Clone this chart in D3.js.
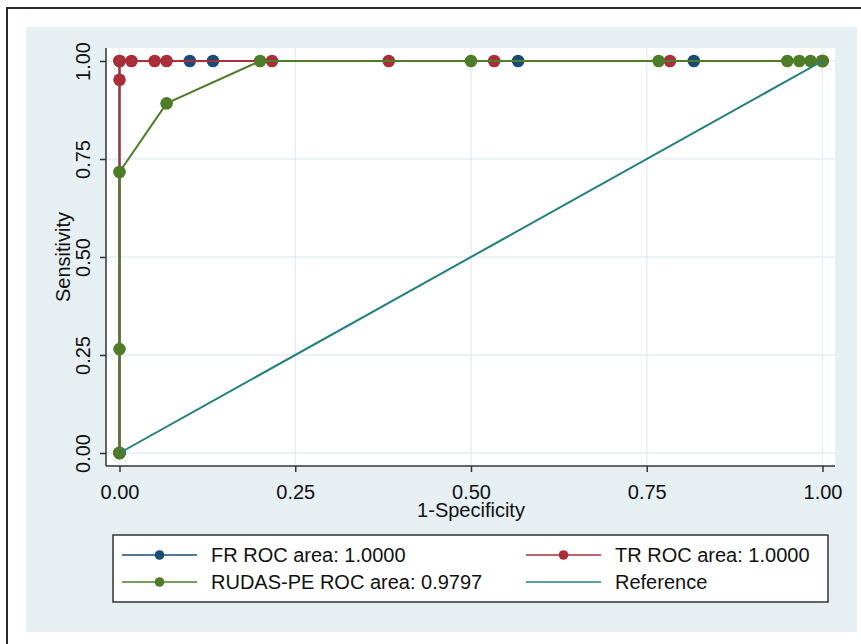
<!DOCTYPE html>
<html>
<head>
<meta charset="utf-8">
<script src="https://cdn.jsdelivr.net/npm/d3@7"></script>
<style>
  html, body { margin: 0; padding: 0; background: #fff; }
  svg text { font-family: "Liberation Sans", Arial, sans-serif; fill: #111; }
</style>
</head>
<body>
<div id="chart-area"></div>
<script>
// ROC data (1-specificity / sensitivity)
const frFpr = [0, 0, 0.1, 0.133, 0.567, 0.817, 1];
const frTpr = [0, 1, 1, 1, 1, 1, 1];
const trFpr = [0, 0, 0, 0.017, 0.05, 0.067, 0.217, 0.383, 0.533, 0.783, 1];
const trTpr = [0, 0.952, 1, 1, 1, 1, 1, 1, 1, 1, 1];
const rudasFpr = [0, 0, 0, 0.067, 0.2, 0.5, 0.767, 0.95, 0.967, 0.983, 1];
const rudasTpr = [0, 0.265, 0.717, 0.892, 1, 1, 1, 1, 1, 1, 1];
const refFpr = [0, 1];
const refTpr = [0, 1];

const seriesNames = ['FR', 'TR', 'RUDAS-PE'];
const rocAreas = ['1.0000', '1.0000', '0.9797'];
const xTicks = [0, 0.25, 0.5, 0.75, 1];
const yTicks = [0, 0.25, 0.5, 0.75, 1];

const colors = {FR: '#1a4c78', TR: '#aa2f3b', 'RUDAS-PE': '#4e7c28', Reference: '#22807f'};

const W = 861, H = 644;
const svg = d3.select('#chart-area').append('svg').attr('width', W).attr('height', H);

// outer frame + graph region
svg.append('rect').attr('x', 7).attr('y', 8).attr('width', W + 10).attr('height', H + 10)
  .attr('fill', '#fff').attr('stroke', '#2b2b2b').attr('stroke-width', 2);
svg.append('rect').attr('x', 26).attr('y', 27).attr('width', 831).attr('height', 605).attr('fill', '#e6eff1');

// plot region
const plot = {left: 106, right: 835, top: 48, bottom: 466};
svg.append('rect').attr('x', plot.left).attr('y', plot.top)
  .attr('width', plot.right - plot.left).attr('height', plot.bottom - plot.top).attr('fill', '#fff');

const x = d3.scaleLinear().domain([0, 1]).range([119.5, 822.5]);
const y = d3.scaleLinear().domain([0, 1]).range([453, 61]);

// grid
const grid = svg.append('g').attr('class', 'grid');
grid.selectAll('.gx').data(xTicks).enter().append('line')
  .attr('x1', d => x(d)).attr('x2', d => x(d)).attr('y1', plot.top).attr('y2', plot.bottom)
  .attr('stroke', '#e6eff1').attr('stroke-width', 1.5);
grid.selectAll('.gy').data(yTicks).enter().append('line')
  .attr('y1', d => y(d)).attr('y2', d => y(d)).attr('x1', plot.left).attr('x2', plot.right)
  .attr('stroke', '#e6eff1').attr('stroke-width', 1.5);

// axes
const xAxisCall = d3.axisBottom(x).tickValues(xTicks).tickFormat(d3.format('.2f')).tickSize(6).tickSizeOuter(0);
const yAxisCall = d3.axisLeft(y).tickValues(yTicks).tickFormat(d3.format('.2f')).tickSize(6).tickSizeOuter(0);

const gx = svg.append('g').attr('class', 'x-axis').attr('transform', `translate(0, ${plot.bottom})`).call(xAxisCall);
gx.select('.domain').attr('d', `M${plot.left},0H${plot.right}`);
gx.selectAll('text').attr('y', 33).attr('dy', null).style('font-size', '20px');

const gy = svg.append('g').attr('class', 'y-axis').attr('transform', `translate(${plot.left}, 0)`).call(yAxisCall);
gy.select('.domain').attr('d', `M0,${plot.top}V${plot.bottom}`);
gy.selectAll('text').attr('x', null).attr('y', null).attr('dy', null).attr('text-anchor', 'middle')
  .attr('transform', 'translate(-16, 0) rotate(-90)')
  .style('font-size', '20px');

svg.selectAll('.domain, .tick line').attr('stroke', '#333').attr('stroke-width', 1.5);

svg.append('text').attr('x', (x(0) + x(1)) / 2).attr('y', 517).attr('text-anchor', 'middle')
  .style('font-size', '20px').text('1-Specificity');
svg.append('text').attr('transform', `translate(70, ${(y(0) + y(1)) / 2}) rotate(-90)`)
  .attr('text-anchor', 'middle').style('font-size', '20px').text('Sensitivity');

// curves
const series = [
  {name: 'FR', xs: frFpr, ys: frTpr},
  {name: 'TR', xs: trFpr, ys: trTpr},
  {name: 'RUDAS-PE', xs: rudasFpr, ys: rudasTpr}
];
const line = d3.line().x(d => x(d[0])).y(d => y(d[1]));

series.forEach(s => {
  const pts = s.xs.map((v, i) => [v, s.ys[i]]);
  const g = svg.append('g').attr('class', 'series');
  g.append('path').datum(pts).attr('d', line).attr('fill', 'none')
    .attr('stroke', colors[s.name]).attr('stroke-width', 2);
  g.selectAll('.point').data(pts).enter().append('circle')
    .attr('class', 'point').attr('r', 6.3)
    .attr('cx', d => x(d[0])).attr('cy', d => y(d[1]))
    .attr('fill', colors[s.name]);
});

svg.append('path').datum(refFpr.map((v, i) => [v, refTpr[i]])).attr('d', line)
  .attr('fill', 'none').attr('stroke', colors.Reference).attr('stroke-width', 2);

// legend
const legend = svg.append('g').attr('class', 'legend');
legend.append('rect').attr('x', 113).attr('y', 535).attr('width', 715).attr('height', 67)
  .attr('fill', '#fff').attr('stroke', '#333').attr('stroke-width', 1.5);

const legendItems = [
  {key: 'FR', label: `${seriesNames[0]} ROC area: ${rocAreas[0]}`, marker: true},
  {key: 'TR', label: `${seriesNames[1]} ROC area: ${rocAreas[1]}`, marker: true},
  {key: 'RUDAS-PE', label: `${seriesNames[2]} ROC area: ${rocAreas[2]}`, marker: true},
  {key: 'Reference', label: 'Reference', marker: false}
];
const colX = [122, 526];
const rowY = [555, 582];

const li = legend.selectAll('.item').data(legendItems).enter().append('g')
  .attr('class', 'item')
  .attr('transform', (d, i) => `translate(${colX[i % 2]}, ${rowY[Math.floor(i / 2)]})`);
li.append('line').attr('x1', 0).attr('x2', 75).attr('y1', 0).attr('y2', 0)
  .attr('stroke', d => colors[d.key]).attr('stroke-width', 1.5);
li.filter(d => d.marker).append('circle').attr('cx', 37.5).attr('cy', 0).attr('r', 4.8)
  .attr('fill', d => colors[d.key]);
li.append('text').attr('x', 89).attr('y', 7).style('font-size', '20px').text(d => d.label);
</script>
</body>
</html>
